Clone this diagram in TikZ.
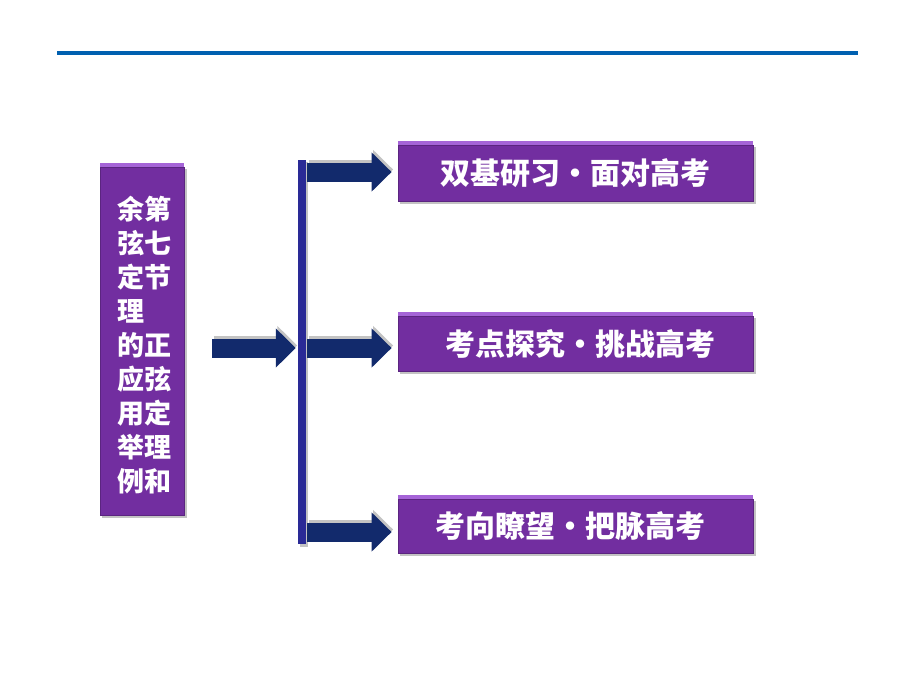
\documentclass[tikz,border=0pt]{standalone}
\usepackage{fontspec}
\newfontfamily\cjk{Noto Sans CJK SC}
\usetikzlibrary{arrows.meta,calc}
\definecolor{topline}{RGB}{0,96,176}
\definecolor{boxpurple}{RGB}{114,46,160}
\definecolor{boxlight}{RGB}{165,100,215}
\definecolor{barblue}{RGB}{42,42,150}
\definecolor{arrnavy}{RGB}{18,42,108}
\definecolor{shadowgray}{RGB}{195,195,195}
\tikzset{
  purplebox/.style={fill=boxpurple, draw=boxpurple!80!black, line width=0.8pt,
    inner sep=0pt, text=white, font=\cjk\bfseries\fontsize{30}{34}\selectfont},
  boxshadow/.style={fill=shadowgray},
  blockarr/.style={draw=arrnavy, line width=19pt,
    -{Triangle[width=38pt,length=20pt,fill=arrnavy]}},
  arrshadow/.style={draw=shadowgray, line width=19pt,
    -{Triangle[width=38pt,length=20pt,fill=shadowgray]}},
}
\begin{document}
\begin{tikzpicture}[x=1pt,y=-1pt]
\useasboundingbox[fill=white] (0,0) rectangle (920,690);
% top rule
\coordinate (tl) at (57,53);
\coordinate (tr) at (858,53);
\draw[topline, line width=4pt] (tl) -- (tr);

% shadows of boxes
\fill[boxshadow] (102,169) rectangle (187,518);
\fill[boxshadow] (400,147) rectangle (756,204);
\fill[boxshadow] (400,318) rectangle (756,374);
\fill[boxshadow] (400,501) rectangle (756,556);

% left title box
\node[purplebox, minimum width=84pt, minimum height=348pt] (left) at (142,341) {};
\fill[boxlight] (left.north west) rectangle ([yshift=4pt]left.north east);
\node[text=white, font=\cjk\bfseries\fontsize{27}{34}\selectfont, align=left, inner sep=0pt]
  (lefttext) at (144,345) {余第\\弦七\\定节\\理\phantom{第}\\的正\\应弦\\用定\\举理\\例和};

% vertical bar
\fill[shadowgray] (300,162) rectangle (308,547);
\node[fill=barblue, minimum width=8pt, minimum height=384pt, inner sep=0pt] (bar) at (302,352) {};

% right boxes
\node[purplebox, minimum width=355pt, minimum height=56pt] (b1) at (575.5,173) {};
\fill[boxlight] (b1.north west) rectangle ([yshift=4pt]b1.north east);
\node[text=white, font=\cjk\bfseries\fontsize{30}{34}\selectfont, inner sep=0pt] (t1) at (575,173) {双基研习・面对高考};

\node[purplebox, minimum width=355pt, minimum height=55pt] (b2) at (575.5,343.5) {};
\fill[boxlight] (b2.north west) rectangle ([yshift=4pt]b2.north east);
\node[text=white, font=\cjk\bfseries\fontsize{30}{34}\selectfont, inner sep=0pt] (t2) at (580,344) {考点探究・挑战高考};

\node[purplebox, minimum width=355pt, minimum height=54pt] (b3) at (575.5,526) {};
\fill[boxlight] (b3.north west) rectangle ([yshift=4pt]b3.north east);
\node[text=white, font=\cjk\bfseries\fontsize{30}{34}\selectfont, inner sep=0pt] (t3) at (570,526) {考向瞭望・把脉高考};

% arrow anchors
\coordinate (la) at ([xshift=28pt]left.east |- 0,348);
\coordinate (lb) at ([xshift=-2pt]bar.west |- 0,348);
\coordinate (r1a) at ([xshift=1pt]bar.east |- 0,172);
\coordinate (r1b) at ([xshift=-6pt]b1.west |- 0,172);
\coordinate (r2a) at ([xshift=1pt]bar.east |- 0,348);
\coordinate (r2b) at ([xshift=-6pt]b2.west |- 0,348);
\coordinate (r3a) at ([xshift=1pt]bar.east |- 0,532);
\coordinate (r3b) at ([xshift=-6pt]b3.west |- 0,532);

% arrow shadows
\foreach \a/\b in {la/lb, r1a/r1b, r2a/r2b, r3a/r3b}
  \draw[arrshadow] ([shift={(1.5pt,2.5pt)}]\a) -- ([shift={(1.5pt,2.5pt)}]\b);
% arrows
\draw[blockarr] (la) -- (lb);
\draw[blockarr] (r1a) -- (r1b);
\draw[blockarr] (r2a) -- (r2b);
\draw[blockarr] (r3a) -- (r3b);
\end{tikzpicture}
\end{document}
